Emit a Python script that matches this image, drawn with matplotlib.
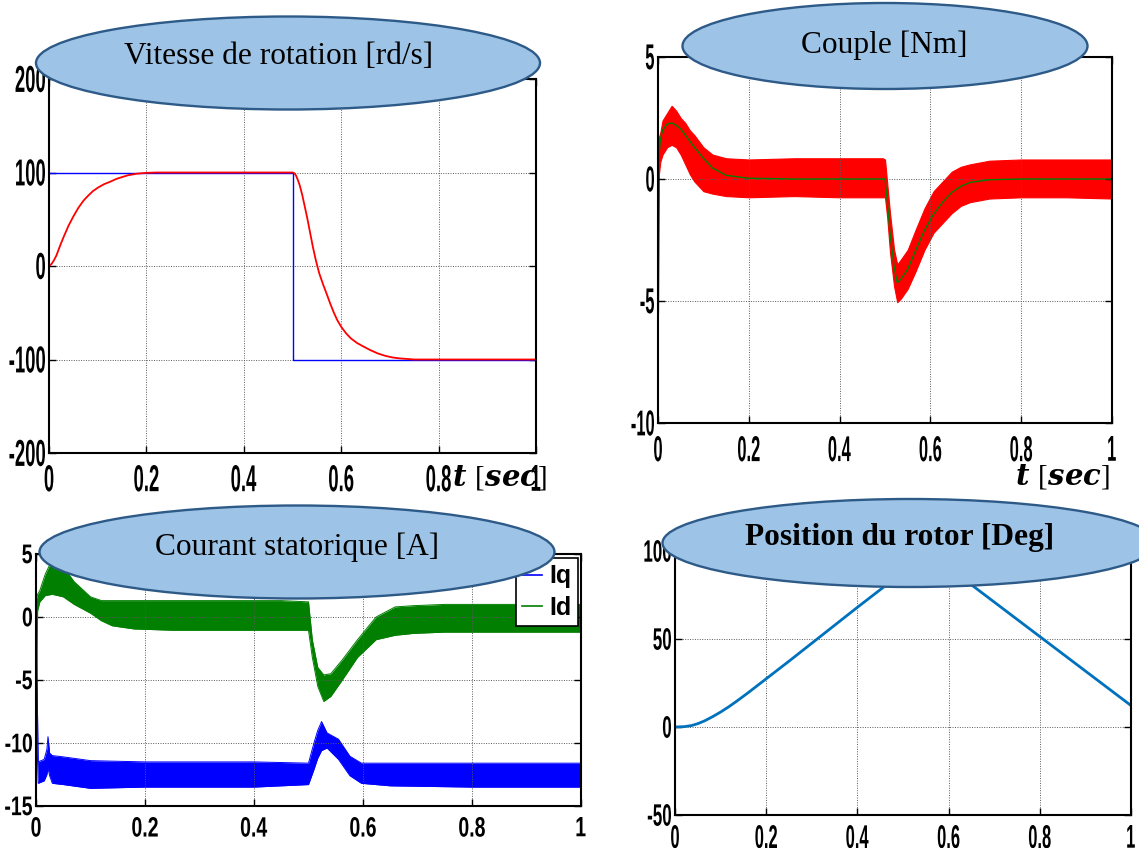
import matplotlib
matplotlib.use('Agg')
import matplotlib.pyplot as plt
from matplotlib.patches import Ellipse, PathPatch
from matplotlib.textpath import TextPath
from matplotlib.font_manager import FontProperties
from matplotlib.transforms import Affine2D, ScaledTranslation, blended_transform_factory

# bold-italic variables with upright brackets for the time labels
plt.rcParams['mathtext.fontset'] = 'custom'
plt.rcParams['mathtext.rm'] = 'Liberation Serif'
plt.rcParams['mathtext.bf'] = 'DejaVu Serif:italic:bold'

# ---- speed (rd/s): reference and measured ----
speed_ref_t = [0, 0.5, 0.5, 1.0]
speed_ref = [100, 100, -100, -100]
speed_t = [0, 0.005, 0.01, 0.015, 0.023, 0.03, 0.04, 0.05, 0.06, 0.071, 0.08, 0.09,
           0.101, 0.113, 0.125, 0.14, 0.162, 0.18, 0.2, 0.22, 0.5,
           0.503, 0.507, 0.511, 0.515, 0.52, 0.525, 0.53, 0.536, 0.542, 0.548,
           0.555, 0.563, 0.571, 0.578, 0.585, 0.592, 0.6, 0.61, 0.62, 0.633,
           0.647, 0.66, 0.675, 0.69, 0.705, 0.72, 0.75, 1.0]
speed = [0, 2, 6, 11, 22, 31, 43, 53, 62, 70, 75, 80,
         84, 87.5, 90, 93.5, 97, 98.7, 99.6, 100, 100,
         99.5, 97, 92, 86, 76, 64, 52, 36, 20, 6,
         -8, -20, -31, -41, -50, -58, -65, -72, -77.5, -82.5,
         -86.5, -90, -93.5, -96, -97.8, -98.8, -100, -100]

# ---- electromagnetic torque (Nm): ripple envelope and mean ----
couple_t = [0, 0.002, 0.005, 0.01, 0.02, 0.03, 0.04, 0.05, 0.06, 0.07, 0.08, 0.1,
            0.12, 0.15, 0.2, 0.3, 0.4, 0.495, 0.5, 0.505, 0.511, 0.52, 0.527, 0.535,
            0.55, 0.567, 0.587, 0.607, 0.627, 0.647, 0.667, 0.687, 0.73, 0.8, 0.9, 1.0]
couple_mean = [0, 0.9, 1.6, 2.0, 2.25, 2.3, 2.2, 2.05, 1.8, 1.55, 1.3, 0.85,
               0.45, 0.15, 0.03, 0, 0, 0, 0, -0.9, -2.2, -3.6, -4.25, -4.1,
               -3.7, -2.95, -2.1, -1.44, -0.95, -0.55, -0.3, -0.14, -0.03, 0, 0, 0]
couple_hi = [0, 1.7, 1.9, 2.4, 2.7, 3.0, 2.8, 2.5, 2.3, 2.0, 1.8, 1.3,
             1.0, 0.85, 0.8, 0.85, 0.85, 0.85, 0.8, -0.2, -1.4, -2.9, -3.5, -3.3,
             -2.9, -2.1, -1.2, -0.5, -0.1, 0.3, 0.5, 0.6, 0.75, 0.8, 0.8, 0.8]
couple_lo = [-5.5, 0.2, 0.7, 1.0, 1.3, 1.4, 1.3, 1.0, 0.6, 0.2, -0.1, -0.5,
             -0.6, -0.7, -0.75, -0.7, -0.75, -0.75, -0.75, -1.6, -3.0, -4.4, -5.05, -4.9,
             -4.5, -3.8, -2.9, -2.2, -1.8, -1.4, -1.1, -0.95, -0.8, -0.75, -0.75, -0.8]

# ---- stator currents (A): ripple envelopes ----
id_t = [0, 0.003, 0.007, 0.017, 0.03, 0.05, 0.07, 0.1, 0.12, 0.14, 0.18, 0.25, 0.35,
        0.45, 0.5, 0.507, 0.517, 0.528, 0.541, 0.562, 0.59, 0.624, 0.659, 0.693,
        0.75, 0.85, 1.0]
id_hi = [1.3, 1.8, 2.1, 3.4, 4.6, 4.0, 2.8, 1.6, 1.3, 1.3, 1.3, 1.3, 1.3,
         1.3, 1.2, -1.8, -4.0, -4.6, -4.5, -3.4, -1.8, 0.0, 0.8, 0.9,
         1.0, 1.0, 1.0]
id_lo = [-7.4, 0.5, 1.2, 1.7, 1.8, 1.6, 1.0, 0.3, -0.3, -0.7, -0.95, -1.05, -1.05,
         -1.05, -1.05, -3.2, -5.5, -6.7, -6.3, -5.0, -3.2, -1.8, -1.45, -1.3,
         -1.2, -1.2, -1.2]
iq_t = [0, 0.004, 0.015, 0.02, 0.022, 0.025, 0.03, 0.05, 0.1, 0.2, 0.3, 0.4, 0.5,
        0.51, 0.517, 0.524, 0.534, 0.555, 0.576, 0.597, 0.65, 0.8, 1.0]
iq_hi = [1.0, -11.5, -11.3, -10.5, -9.5, -10.8, -11.0, -11.1, -11.4, -11.5, -11.5,
         -11.5, -11.6, -10.0, -9.0, -8.3, -9.2, -9.7, -11.05, -11.6, -11.6, -11.6, -11.6]
iq_lo = [-7.0, -13.2, -13.0, -12.5, -12.0, -12.6, -13.2, -13.3, -13.6, -13.5, -13.5,
         -13.5, -13.3, -12.1, -11.2, -10.6, -10.4, -11.3, -12.6, -13.2, -13.4, -13.5, -13.5]

# ---- rotor position (deg) ----
pos_t = [0, 0.02, 0.036, 0.05, 0.065, 0.082, 0.1, 0.118, 0.136, 0.16, 0.18, 0.2,
         0.25, 0.3, 0.35, 0.4, 0.461, 0.5, 0.545, 0.6, 0.65, 0.7, 0.75,
         0.8, 0.85, 0.9, 0.95, 1.0]
pos = [0, 0.2, 0.8, 1.9, 3.5, 5.8, 8.5, 11.5, 14.8, 19.4, 23.4, 27.4,
       37.4, 47.6, 57.8, 68, 80.2, 87, 90, 88, 80.8, 71, 61.2,
       51.4, 41.6, 31.8, 22, 12.2]

x_ticks = [0, 0.2, 0.4, 0.6, 0.8, 1.0]
x_labels = ['0', '0.2', '0.4', '0.6', '0.8', '1']
speed_ticks = [-200, -100, 0, 100, 200]
couple_ticks = [-10, -5, 0, 5]
current_ticks = [-15, -10, -5, 0, 5]
pos_ticks = [-50, 0, 50, 100]

W, H, DPI = 1139, 848, 100
fig = plt.figure(figsize=(W / DPI, H / DPI), dpi=DPI)
fig.patch.set_facecolor('white')

TICK_FP = FontProperties(family='Liberation Sans', weight='bold')


def px_axes(x0, y0, x1, y1):
    return fig.add_axes([x0 / W, 1 - y1 / H, (x1 - x0) / W, (y1 - y0) / H])


def tall_label(x, y, s, trans, ha, va, em_x, em_y, dx=0, dy=0):
    # narrow, stretched bold digits drawn as a path
    path = TextPath((0, 0), s, size=100, prop=TICK_FP)
    ext = path.get_extents()
    ox = {'left': -ext.x0, 'center': -(ext.x0 + ext.x1) / 2, 'right': -ext.x1}[ha]
    oy = {'bottom': -ext.y0, 'center': -(ext.y0 + ext.y1) / 2, 'top': -ext.y1}[va]
    tr = (Affine2D().translate(ox, oy).scale(em_x / 100, em_y / 100).translate(dx, dy)
          + ScaledTranslation(x, y, trans))
    fig.add_artist(PathPatch(path, transform=tr, facecolor='black',
                             edgecolor='none', clip_on=False, zorder=3))


def style_axes(ax, yticks, ylim, ex, ey, xgap=12, ygap=4, ylabel_em=None):
    ax.set_xlim(0, 1)
    ax.set_ylim(*ylim)
    ax.set_xticks(x_ticks)
    ax.set_yticks(yticks)
    ax.tick_params(direction='in', top=True, right=True, length=5, width=1,
                   labelbottom=False, labelleft=False)
    ax.grid(True, color='#5a5a5a', linestyle=(0, (1, 1.5)), linewidth=0.7)
    for sp in ax.spines.values():
        sp.set_linewidth(1.5)
    xt = blended_transform_factory(ax.transData, ax.transAxes)
    for v, s in zip(x_ticks, x_labels):
        tall_label(v, 0, s, xt, 'center', 'top', ex, ey, dy=-xgap)
    yt = blended_transform_factory(ax.transAxes, ax.transData)
    yex, yey = ylabel_em if ylabel_em else (ex, ey)
    for v in yticks:
        tall_label(0, v, str(v), yt, 'right', 'center', yex, yey, dx=-ygap)


def title_ellipse(cx, cy, w, h, text, tx, ty, weight='normal'):
    fig.add_artist(Ellipse((cx / W, 1 - cy / H), w / W, h / H, transform=fig.transFigure,
                           facecolor='#9DC3E6', edgecolor='#2E5A88', linewidth=1.7,
                           zorder=5))
    fig.text(tx / W, 1 - ty / H, text, ha='center', va='center', fontsize=22.6,
             family='Liberation Serif', weight=weight, zorder=6)


# speed
ax1 = px_axes(49, 79, 536, 453)
ax1.plot(speed_ref_t, speed_ref, color='#0000FF', linewidth=1.0)
ax1.plot(speed_t, speed, color='#FF0000', linewidth=1.3)
style_axes(ax1, speed_ticks, (-200, 200), 18.5, 37.5, xgap=12)

# torque
ax2 = px_axes(658, 57, 1112, 423)
ax2.fill_between(couple_t, couple_lo, couple_hi, color='#FF0000', linewidth=0.8)
ax2.plot(couple_t, couple_mean, color='#007F00', linewidth=1.0)
style_axes(ax2, couple_ticks, (-10, 5), 16.5, 36, xgap=13)

# stator currents
ax3 = px_axes(36, 554, 581, 806)
ax3.plot(iq_t, iq_hi, color='#0000FF', linewidth=0.7, label='Iq')
ax3.plot(iq_t, iq_lo, color='#0000FF', linewidth=0.7)
ax3.fill_between(iq_t, iq_lo, iq_hi, color='#0000FF', linewidth=0)
ax3.plot(id_t, id_hi, color='#007F00', linewidth=0.7, label='Id')
ax3.plot(id_t, id_lo, color='#007F00', linewidth=0.7)
ax3.fill_between(id_t, id_lo, id_hi, color='#007F00', linewidth=0)
style_axes(ax3, current_ticks, (-15, 5), 19.5, 28, xgap=11, ylabel_em=(19.5, 27))
leg = ax3.legend(loc='upper right', bbox_to_anchor=(578 / W, 1 - 558 / H),
                 bbox_transform=fig.transFigure, borderaxespad=0, fancybox=False,
                 framealpha=1, edgecolor='black', handlelength=0.8, handletextpad=0.3,
                 borderpad=0.25, labelspacing=0.3,
                 prop=FontProperties(family='Liberation Sans', weight='bold', size=18))
leg.get_frame().set_linewidth(1.2)
for line in leg.get_lines():
    line.set_linewidth(1.2)

# rotor position
ax4 = px_axes(675, 551, 1131, 815)
ax4.plot(pos_t, pos, color='#0072BD', linewidth=2.0)
style_axes(ax4, pos_ticks, (-50, 100), 16.5, 33, xgap=10, ylabel_em=(17, 31))

# time axis labels
time_label = r'$\mathbf{t}\ [\mathbf{sec}]$'
fig.text(452 / W, 1 - 478 / H, time_label, ha='left', va='center', fontsize=21, zorder=4)
fig.text(1062 / W, 1 - 476 / H, time_label, ha='center', va='center', fontsize=21, zorder=4)

# titles in ellipses
title_ellipse(288, 63, 504, 93, 'Vitesse de rotation [rd/s]', 279, 57)
title_ellipse(885, 46, 405, 86, 'Couple [Nm]', 884, 45)
title_ellipse(297, 552, 515, 93, 'Courant statorique [A]', 297, 547)
title_ellipse(910, 543, 495, 88, 'Position du rotor [Deg]', 900, 537, weight='bold')

fig.savefig('out.png', dpi=DPI, facecolor='white')
